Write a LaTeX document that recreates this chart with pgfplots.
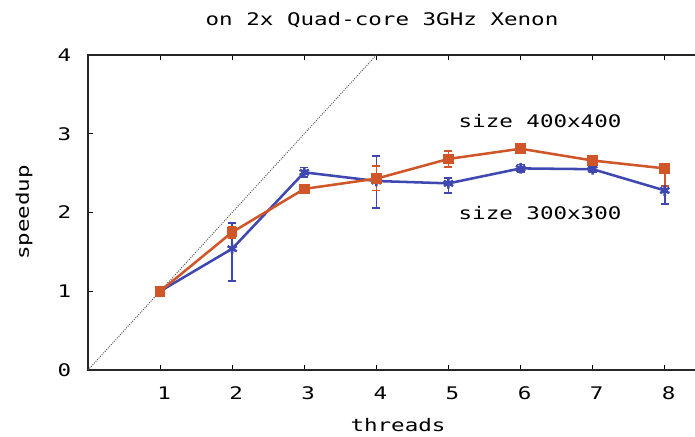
\documentclass[border=0pt]{standalone}
\usepackage{fontspec}
\setmainfont{DejaVu Sans Mono}[FakeStretch=1.3]
\usepackage{pgfplots}
\pgfplotsset{compat=1.18}

\definecolor{blueline}{HTML}{3F48B0}
\definecolor{orangeline}{HTML}{D0562A}

\begin{document}
\fontsize{13}{15}\selectfont
\begin{tikzpicture}
\begin{axis}[
  scale only axis,
  width=465pt, height=236.25pt,
  xmin=0, xmax=8.6, ymin=0, ymax=4,
  xtick={1,2,3,4,5,6,7,8},
  ytick={0,1,2,3,4},
  tick align=inside,
  major tick length=4pt,
  tick style={black, line width=0.8pt},
  axis line style={line width=1.4pt, black!85},
  /pgf/number format/assume math mode=true,
  ticklabel style={font=\fontsize{13}{15}\selectfont},
  xticklabel style={yshift=-8pt, xshift=3pt},
  yticklabel style={xshift=-8pt},
  xlabel={threads},
  ylabel={speedup},
  xlabel style={yshift=-5pt},
  ylabel style={yshift=10pt},
  title={on 2x Quad-core 3GHz Xenon},
  title style={yshift=10pt, xshift=-12pt},
  clip=true,
]
\addplot[black!70, line width=0.7pt, densely dotted, forget plot] coordinates {(0,0) (4,4)};

\addplot[blueline, line width=1.9pt, mark=asterisk, mark size=4pt,
  error bars/.cd, y dir=both, y explicit,
  error bar style={line width=1.3pt},
  error mark options={rotate=90, mark size=3pt, line width=1.3pt}]
coordinates {
  (1,1.00) +=(0,0.03) -=(0,0.03)
  (2,1.54) +=(0,0.33) -=(0,0.41)
  (3,2.51) +=(0,0.06) -=(0,0.06)
  (4,2.40) +=(0,0.32) -=(0,0.34)
  (5,2.37) +=(0,0.07) -=(0,0.12)
  (6,2.56) +=(0,0.05) -=(0,0.05)
  (7,2.55) +=(0,0.04) -=(0,0.04)
  (8,2.28) +=(0,0.06) -=(0,0.17)
};

\addplot[orangeline, line width=1.9pt, mark=square*, mark size=3pt,
  error bars/.cd, y dir=both, y explicit,
  error bar style={line width=1.3pt},
  error mark options={rotate=90, mark size=3pt, line width=1.3pt}]
coordinates {
  (1,1.00) +=(0,0.03) -=(0,0.03)
  (2,1.75) +=(0,0.07) -=(0,0.07)
  (3,2.30) +=(0,0.05) -=(0,0.05)
  (4,2.43) +=(0,0.16) -=(0,0.15)
  (5,2.68) +=(0,0.10) -=(0,0.10)
  (6,2.81) +=(0,0.04) -=(0,0.04)
  (7,2.66) +=(0,0.04) -=(0,0.04)
  (8,2.56) +=(0,0.04) -=(0,0.22)
};

\node at (axis cs:6.27,3.16) {size 400x400};
\node at (axis cs:6.27,1.99) {size 300x300};
\end{axis}
\pgfresetboundingbox
\path (-66pt,-49.5pt) rectangle (455.25pt,277.5pt);
\end{tikzpicture}
\end{document}
